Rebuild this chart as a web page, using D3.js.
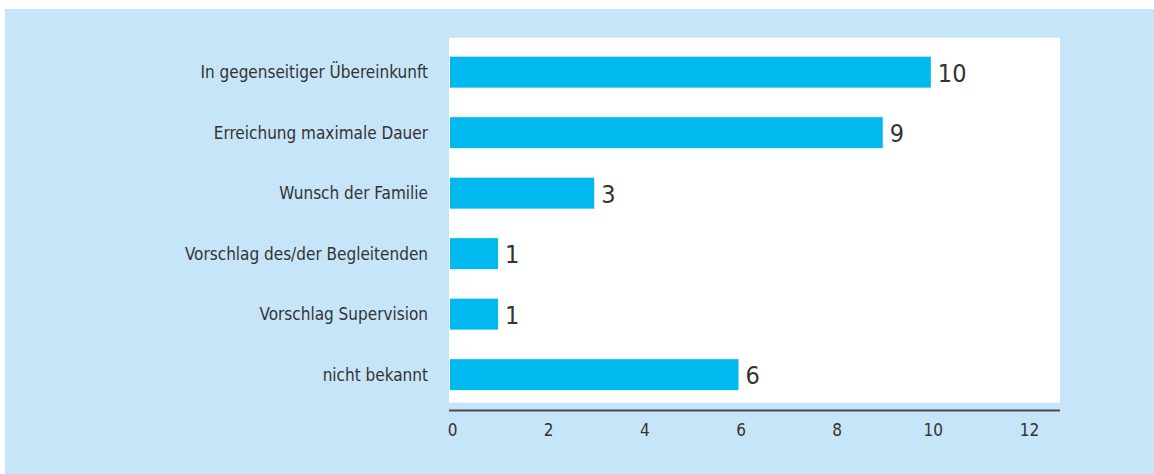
<!DOCTYPE html>
<html>
<head>
<meta charset="utf-8">
<script src="https://cdn.jsdelivr.net/npm/d3@7"></script>
<style>
  body { margin: 0; background: #fff; }
  .lbl { font-family: "Liberation Sans Narrow", "DejaVu Sans Condensed", "Roboto", sans-serif; fill: #333; }
</style>
</head>
<body>
<div id="chart"></div>
<script>
/********** the Data **********/
const categories = [
  "In gegenseitiger Übereinkunft",
  "Erreichung maximale Dauer",
  "Wunsch der Familie",
  "Vorschlag des/der Begleitenden",
  "Vorschlag Supervision",
  "nicht bekannt"
];
const values = [10, 9, 3, 1, 1, 6];
const ticks = [0, 2, 4, 6, 8, 10, 12];

/********** drawChart **********/
function drawChart() {
  let width = 1154, height = 474;

  let svg = d3.select("#chart").append("svg")
    .attr("width", width)
    .attr("height", height);

  // light blue panel
  svg.append("rect")
    .attr("x", 5).attr("y", 9)
    .attr("width", width - 5).attr("height", height - 9)
    .attr("fill", "#c7e5f8");

  // white plot area
  svg.append("rect")
    .attr("x", 449).attr("y", 37.7)
    .attr("width", 611).attr("height", 365)
    .attr("fill", "#ffffff");

  let xScale = d3.scaleLinear()
    .domain([0, 12])
    .range([450, 1027]);

  let yScale = d3.scaleBand()
    .domain(categories)
    .range([41.9, 404.9])
    .paddingInner(0.488)
    .paddingOuter(0.244);

  let data = categories.map((c, i) => ({cat: c, val: values[i]}));

  // bars
  svg.selectAll(".bar")
      .data(data)
    .enter().append("rect")
      .attr("class", "bar")
      .attr("x", xScale(0))
      .attr("y", d => yScale(d.cat))
      .attr("width", d => xScale(d.val) - xScale(0))
      .attr("height", yScale.bandwidth())
      .attr("fill", "#00b9ef");

  // value labels
  svg.selectAll(".val")
      .data(data)
    .enter().append("text")
      .attr("class", "lbl val")
      .attr("x", d => xScale(d.val) + 7)
      .attr("y", d => yScale(d.cat) + yScale.bandwidth() / 2)
      .attr("dy", "0.38em")
      .style("font-size", "25px")
      .text(d => d.val);

  // category labels
  svg.selectAll(".cat")
      .data(data)
    .enter().append("text")
      .attr("class", "lbl cat")
      .attr("x", 428)
      .attr("y", d => yScale(d.cat) + yScale.bandwidth() / 2)
      .attr("dy", "0.36em")
      .attr("text-anchor", "end")
      .style("font-size", "17px")
      .text(d => d.cat);

  // x axis
  let xAxis = d3.axisBottom(xScale)
    .tickValues(ticks)
    .tickSize(0)
    .tickPadding(13);

  let gx = svg.append("g")
    .attr("transform", "translate(0, 410.5)")
    .call(xAxis);
  gx.select(".domain")
    .attr("d", "M449,0H1060")
    .attr("stroke", "#4a4a50")
    .attr("stroke-width", 2);
  gx.selectAll("text")
    .attr("class", "lbl")
    .attr("fill", "#333")
    .attr("dx", 2)
    .style("font-size", "17px");
}

drawChart();
</script>
</body>
</html>
